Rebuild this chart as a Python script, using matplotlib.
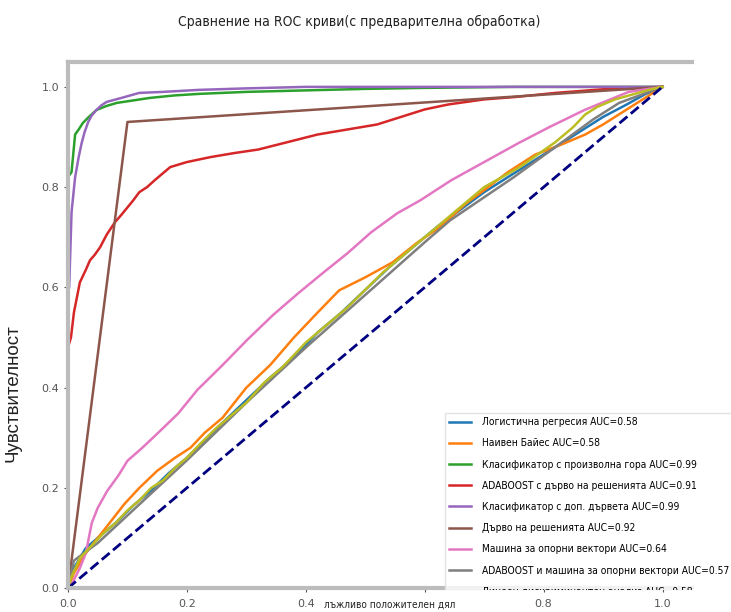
import matplotlib
matplotlib.use("Agg")
import matplotlib.pyplot as plt
from matplotlib.font_manager import FontProperties
from matplotlib.transforms import Bbox, TransformedBbox

# ROC curve points
labels = [
    "Логистична регресия AUC=0.58",
    "Наивен Байес AUC=0.58",
    "Класификатор с произволна гора AUC=0.99",
    "ADABOOST с дърво на решенията AUC=0.91",
    "Класификатор с доп. дървета AUC=0.99",
    "Дърво на решенията AUC=0.92",
    "Машина за опорни вектори AUC=0.64",
    "ADABOOST и машина за опорни вектори AUC=0.57",
    "Линеен дискриминантен анализ AUC=0.58",
]

lr_fpr = [0, 0.01, 0.03, 0.05, 0.08, 0.11, 0.14, 0.17, 0.2, 0.23, 0.26, 0.3, 0.34, 0.38, 0.42,
          0.46, 0.5, 0.54, 0.58, 0.62, 0.66, 0.7, 0.74, 0.78, 0.82, 0.86, 0.9, 0.94, 0.97, 1]
lr_tpr = [0, 0.04, 0.08, 0.1, 0.13, 0.165, 0.195, 0.23, 0.26, 0.295, 0.33, 0.375, 0.42, 0.46, 0.51,
          0.55, 0.595, 0.64, 0.68, 0.72, 0.755, 0.79, 0.82, 0.85, 0.88, 0.91, 0.94, 0.965, 0.985, 1]

nb_fpr = [0, 0.01, 0.03, 0.05, 0.07, 0.095, 0.12, 0.15, 0.18, 0.206, 0.23, 0.26, 0.3, 0.34, 0.38,
          0.42, 0.456, 0.5, 0.546, 0.586, 0.625, 0.67, 0.7, 0.74, 0.786, 0.83, 0.87, 0.9, 0.94, 0.98, 1]
nb_tpr = [0, 0.03, 0.07, 0.1, 0.13, 0.168, 0.2, 0.234, 0.26, 0.28, 0.31, 0.34, 0.4, 0.445, 0.5,
          0.55, 0.594, 0.62, 0.65, 0.688, 0.72, 0.768, 0.794, 0.83, 0.865, 0.885, 0.905, 0.925, 0.955, 0.985, 1]

rf_fpr = [0, 0, 0.006, 0.012, 0.018, 0.025, 0.035, 0.048, 0.065, 0.082, 0.11, 0.138, 0.18, 0.22,
          0.3, 0.4, 0.5, 0.6, 0.75, 1]
rf_tpr = [0, 0.82, 0.83, 0.905, 0.915, 0.928, 0.94, 0.954, 0.962, 0.968, 0.973, 0.978, 0.983, 0.986,
          0.99, 0.993, 0.996, 0.998, 1.0, 1]

ada_fpr = [0, 0, 0.005, 0.01, 0.015, 0.02, 0.03, 0.037, 0.045, 0.054, 0.065, 0.079, 0.09, 0.11, 0.12,
           0.133, 0.147, 0.16, 0.172, 0.2, 0.24, 0.28, 0.32, 0.37, 0.42, 0.47, 0.52, 0.56, 0.6, 0.64,
           0.7, 0.754, 0.82, 0.92, 1]
ada_tpr = [0, 0.48, 0.5, 0.55, 0.58, 0.61, 0.635, 0.654, 0.665, 0.68, 0.705, 0.73, 0.745, 0.774, 0.79,
           0.8, 0.815, 0.828, 0.84, 0.85, 0.86, 0.868, 0.875, 0.89, 0.905, 0.915, 0.925, 0.94, 0.955, 0.965,
           0.975, 0.98, 0.988, 0.997, 1]

et_fpr = [0, 0, 0.002, 0.006, 0.012, 0.018, 0.023, 0.028, 0.034, 0.04, 0.048, 0.056, 0.065, 0.09,
          0.12, 0.16, 0.22, 0.3, 0.4, 1]
et_tpr = [0, 0.59, 0.6, 0.75, 0.82, 0.86, 0.888, 0.91, 0.93, 0.943, 0.954, 0.963, 0.97, 0.978,
          0.988, 0.99, 0.994, 0.997, 1.0, 1]

dt_fpr = [0, 0.1, 1]
dt_tpr = [0, 0.93, 1]

svm_fpr = [0, 0.005, 0.02, 0.03, 0.04, 0.05, 0.066, 0.085, 0.1, 0.125, 0.15, 0.185, 0.218, 0.26,
           0.302, 0.345, 0.387, 0.43, 0.47, 0.51, 0.554, 0.593, 0.645, 0.7, 0.758, 0.81, 0.869, 0.943, 1]
svm_tpr = [0, 0.005, 0.04, 0.07, 0.13, 0.16, 0.194, 0.225, 0.254, 0.28, 0.308, 0.348, 0.396, 0.445,
           0.496, 0.545, 0.588, 0.63, 0.668, 0.71, 0.748, 0.774, 0.814, 0.85, 0.888, 0.92, 0.954, 0.99, 1]

adasvm_fpr = [0, 0.01, 0.05, 0.1, 0.2, 0.3, 0.4, 0.5, 0.6, 0.643, 0.75, 0.843, 0.882, 0.927, 1]
adasvm_tpr = [0, 0.055, 0.09, 0.145, 0.255, 0.37, 0.48, 0.585, 0.69, 0.734, 0.82, 0.9, 0.934, 0.968, 1]

lda_fpr = [0, 0.005, 0.02, 0.04, 0.06, 0.08, 0.1, 0.12, 0.14, 0.16, 0.18, 0.2, 0.22, 0.25, 0.28, 0.3,
           0.33, 0.36, 0.4, 0.44, 0.47, 0.5, 0.53, 0.56, 0.6, 0.64, 0.67, 0.7, 0.73, 0.76, 0.79, 0.82,
           0.85, 0.87, 0.89, 0.92, 0.95, 0.98, 1]
lda_tpr = [0, 0.02, 0.06, 0.085, 0.11, 0.13, 0.155, 0.175, 0.2, 0.215, 0.24, 0.26, 0.285, 0.32, 0.35,
           0.37, 0.41, 0.44, 0.49, 0.53, 0.56, 0.595, 0.63, 0.66, 0.7, 0.74, 0.77, 0.8, 0.82, 0.84, 0.865,
           0.89, 0.92, 0.945, 0.96, 0.975, 0.985, 0.995, 1]

curves = [(lr_fpr, lr_tpr), (nb_fpr, nb_tpr), (rf_fpr, rf_tpr), (ada_fpr, ada_tpr), (et_fpr, et_tpr),
          (dt_fpr, dt_tpr), (svm_fpr, svm_tpr), (adasvm_fpr, adasvm_tpr), (lda_fpr, lda_tpr)]
colors = ["#1f77b4", "#ff7f0e", "#2ca02c", "#d62728", "#9467bd", "#8c564b", "#e377c2", "#7f7f7f", "#bcbd22"]


def narrow(size):
    return FontProperties(family="DejaVu Sans", stretch="condensed", size=size)


fig = plt.figure(figsize=(7.31, 6.12), dpi=100)
ax = fig.add_axes([0.093, 0.039, 0.854, 0.86])

for (fx, ty), c, lab in zip(curves, colors, labels):
    ax.plot(fx, ty, color=c, lw=1.8, label=lab)
ax.plot([0, 1], [0, 1], color="navy", lw=2, linestyle="--")

ax.set_xlim(0, 1.05)
ax.set_ylim(0, 1.05)
ax.set_xticks([0, 0.2, 0.4, 0.6, 0.8, 1.0])
ax.set_xticklabels(["0.0", "0.2", "0.4", "", "0.8", "1.0"])
ax.set_yticks([0, 0.2, 0.4, 0.6, 0.8, 1.0])
ax.tick_params(colors="#555555", labelsize=8, length=3, width=0.8)
ax.tick_params(axis="x", pad=5)

for side in ["top", "bottom", "left"]:
    ax.spines[side].set_color("#bcbcbc")
    ax.spines[side].set_linewidth(3)
ax.spines["right"].set_visible(False)

ax.set_ylabel("Чувствителност", fontsize=13.5, family="Liberation Sans", color="#222222")
ax.yaxis.set_label_coords(-0.075, 0.37)
ax.set_xlabel("лъжливо положителен дял", fontproperties=narrow(7.2), color="#222222")
ax.xaxis.set_label_coords(0.516, -0.022)
fig.suptitle("Сравнение на ROC криви(с предварителна обработка)", x=0.491, y=0.975,
             fontproperties=narrow(10), color="#222222")

leg = ax.legend(loc="upper left", bbox_to_anchor=(445 / 731, 1 - 413 / 612),
                bbox_transform=fig.transFigure, prop=narrow(7.4),
                handlelength=2.1, handletextpad=1.1, labelspacing=1.09, borderaxespad=0,
                frameon=True, fancybox=False, edgecolor="#dddddd")
leg.get_frame().set_linewidth(1)

# the legend runs past the x axis line and is cut there
clip = TransformedBbox(Bbox([[0, 22 / 612], [1, 1]]), fig.transFigure)
for a in leg.get_texts() + leg.get_lines() + [leg.get_frame()]:
    a.set_clip_box(clip)
    a.set_clip_on(True)

fig.savefig("out.png", dpi=100)
plt.close(fig)
